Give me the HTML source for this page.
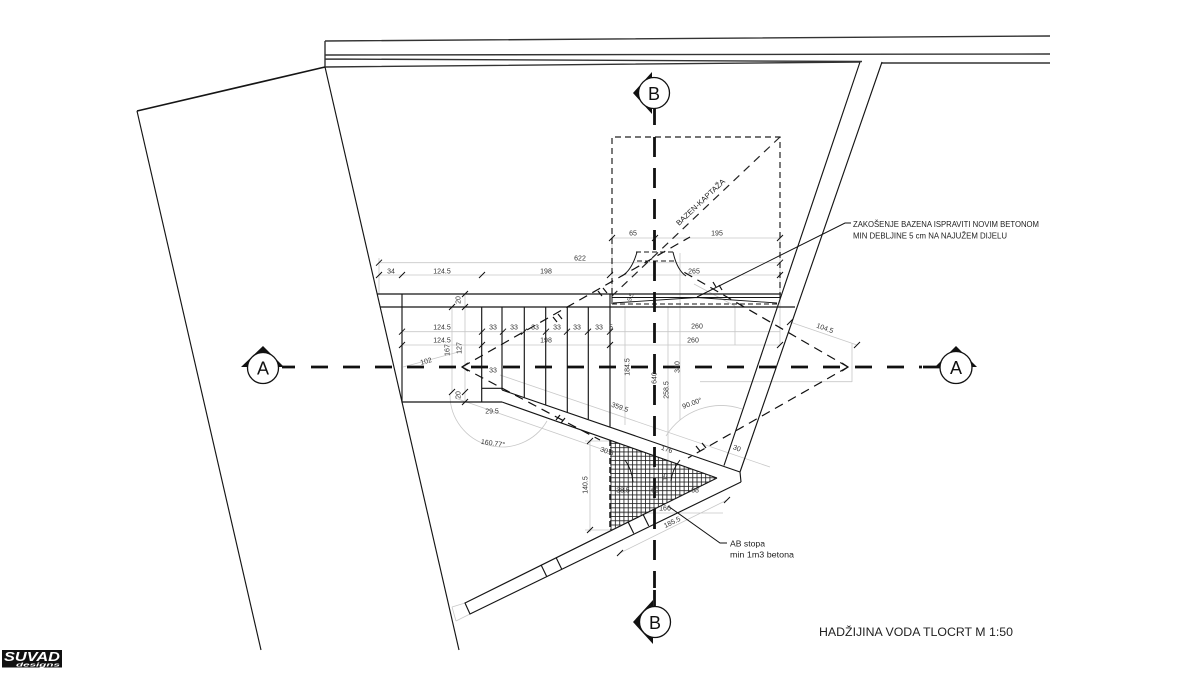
<!DOCTYPE html>
<html><head><meta charset="utf-8">
<style>
html,body{margin:0;padding:0;background:#fff;}
svg{display:block;}
text{font-family:"Liberation Sans",sans-serif;}
</style></head><body>
<svg width="1200" height="675" viewBox="0 0 1200 675" xmlns="http://www.w3.org/2000/svg">
<defs>
<pattern id="grid" width="4.3" height="4.3" patternUnits="userSpaceOnUse">
<path d="M0 0.4H4.3M0.4 0V4.3" stroke="#222" stroke-width="0.9" fill="none"/>
</pattern>
</defs>
<rect width="1200" height="675" fill="#fff"/>

<!-- light grey dimension / construction lines -->
<g stroke="#c8c8c8" stroke-width="0.8" fill="none">
<path d="M379 262.7H780M379 275H780M612 238H780M402 331.7H780M402 345H780"/>
<path d="M379 258V294M612 232V294M780 232V345M465 294V402M452 307V392"/>
<path d="M403 367L462 351"/>
<path d="M500 375L770 467"/>
<path d="M455 398L610 452"/>
<path d="M590 441V532M585 441H612M585 530H612"/>
<path d="M680 253V420M668 307V470M625 307V425"/>
<path d="M790 322L857 345M852 343V382M700 381.7H852"/>
<path d="M620 553L727 500M613 513H723"/>
<path d="M450 395A52 52 0 0 0 547 421"/>
<path d="M666 436A65 65 0 0 1 742 409"/>
<path d="M465 603L452 607M470 614L456 621M452 607L456 621"/>
<path d="M694 284L735 306M735 306V345"/>
</g>

<!-- hatched footing -->
<polygon points="610,440.2 717,478 610,530.2" fill="url(#grid)"/>
<path d="M610 440V530" stroke="#111" stroke-width="1.4" stroke-dasharray="6 3" fill="none"/>
<path d="M625 460Q632 470 633 482M680 460Q672 470 671 481" stroke="#111" stroke-width="1" fill="none"/>

<!-- top band -->
<g stroke="#333" stroke-width="1.4" fill="none">
<path d="M325 41L1050 36M325 55L1050 54M325 59L862 61.5M882 63L1050 63M325 67L860 62M325 41V67"/>
</g>

<!-- main outlines -->
<g stroke="#151515" stroke-width="1.15" fill="none">
<path d="M137 111L325 67" stroke-width="1.6"/>
<path d="M137 111L261 650"/>
<path d="M325 67L459 650"/>
<path d="M860 62L724 465.5M882 62L740 472L741 482"/>
<path d="M377 294H781M380 307H795"/>
<path d="M402 294V402H502"/>
<path d="M481.7 307V402M481.7 388.3H502M502 307V390"/>
<path d="M502 390L740 472M502 402L717 478"/>
<path d="M524.3 307V397.6M545.7 307V404.9M567.3 307V412.2M588.3 307V419.3M610 294V426.7"/>
<path d="M717 478L465 603L470 614L741 482"/>
<path d="M541 564.8L546.7 576.5M556 557.4L561.7 569.1M628 521.7L633.7 533.4M643 514.2L648.7 525.9"/>
<path d="M612 294V304M612 297.5H780M780 294V300" stroke-width="1"/>
<path d="M613 303L697 297.5L777 303" stroke-width="0.9"/>
<path d="M612 304H777" stroke-dasharray="5 3" stroke-width="1"/>
<path d="M637 252Q632 270 622 276M673 252Q677 270 686 276" stroke-width="1"/>
<path d="M636 252H674M637 261H676" stroke-dasharray="5 3" stroke-width="1.1"/>
</g>

<!-- pool (bazen) dashed -->
<g stroke="#222" stroke-width="1.2" fill="none" stroke-dasharray="6 4">
<path d="M612 294V137H780V294"/>
<path d="M780 137L612 296" stroke-dasharray="8 6"/>
</g>

<!-- A chevrons -->
<g stroke="#111" stroke-width="1.2" fill="none">
<path d="M462 367L690 237M462 367L600 440M848 367L682 271M848 367L688 458" stroke-dasharray="9 6"/>
<path d="M468 363L462 367L468 371M842 363L848 367L842 371"/>
<path d="M553 317L557 322M558 314L562 319M598 291L602 296M603 288L607 293M556 420L560 415M561 423L565 418M700 451L696 446M706 448L702 443M716 287L713 282M722 290L719 285"/>
</g>

<!-- ticks -->
<g stroke="#111" stroke-width="1" fill="none">
<path d="M376 265.7L382 259.7M777 265.7L783 259.7"/>
<path d="M376 278L382 272M399 278L405 272M479 278L485 272M607 278L613 272M777 278L783 272"/>
<path d="M609 241L615 235M652 241L658 235M777 241L783 235"/>
<path d="M399 334.7L405 328.7M479 334.7L485 328.7M500 334.7L506 328.7M521 334.7L527 328.7M543 334.7L549 328.7M564 334.7L570 328.7M585 334.7L591 328.7M607 334.7L613 328.7"/>
<path d="M399 348L405 342M479 348L485 342M607 348L613 342M777 348L783 342"/>
<path d="M462 297L468 291M462 310L468 304M462 395L468 389M462 405L468 399"/>
<path d="M449 310L455 304M449 395L455 389"/>
<path d="M587 444L593 438M587 533L593 527"/>
<path d="M787 325L793 319M854 348L860 342"/>
<path d="M617 556L623 550M724 503L730 497"/>
</g>

<!-- section line B -->
<g stroke="#111" stroke-width="2.8" fill="none">
<path d="M654.5 108V125M654.5 590V606"/>
<path d="M654.5 137V588" stroke-dasharray="20 11"/>
</g>
<!-- section line A -->
<g stroke="#111" stroke-width="2.8" fill="none">
<path d="M282 367H295M923 367H940"/>
<path d="M311 367H922" stroke-dasharray="17 15"/>
</g>

<!-- markers -->
<polygon points="652,72 633,93 652,114" fill="#111"/>
<circle cx="654" cy="93" r="15.5" fill="#fff" stroke="#111" stroke-width="1.3"/>
<text x="654" y="99.8" font-size="18" text-anchor="middle" fill="#111">B</text>

<polygon points="653,600 633,622 653,644" fill="#111"/>
<circle cx="655" cy="622" r="15.5" fill="#fff" stroke="#111" stroke-width="1.3"/>
<text x="655" y="628.8" font-size="18" text-anchor="middle" fill="#111">B</text>

<polygon points="241,367 263,346 284,367" fill="#111"/>
<circle cx="263" cy="368" r="15.5" fill="#fff" stroke="#111" stroke-width="1.3"/>
<text x="263" y="374.5" font-size="18" text-anchor="middle" fill="#111">A</text>

<polygon points="935,367 956,346 977,367" fill="#111"/>
<circle cx="956" cy="367.5" r="16" fill="#fff" stroke="#111" stroke-width="1.3"/>
<text x="956" y="374" font-size="18" text-anchor="middle" fill="#111">A</text>

<!-- leaders -->
<g stroke="#111" stroke-width="1" fill="none">
<path d="M851 223H845L697 297"/>
<path d="M727 543H720L668 506"/>
</g>

<!-- dimension text -->
<g font-size="7" fill="#333" text-anchor="middle">
<text x="580" y="260.5">622</text>
<text x="391" y="273.5">34</text>
<text x="442" y="273.5">124.5</text>
<text x="546" y="273.5">198</text>
<text x="633" y="235.5">65</text>
<text x="717" y="235.5">195</text>
<text x="694" y="273.5">265</text>
<text x="442" y="329.5">124.5</text>
<text x="493" y="329.5">33</text>
<text x="514" y="329.5">33</text>
<text x="535" y="329.5">33</text>
<text x="557" y="329.5">33</text>
<text x="577" y="329.5">33</text>
<text x="599" y="329.5">33</text>
<text x="611" y="329.5">5</text>
<text x="442" y="342.5">124.5</text>
<text x="546" y="342.5">198</text>
<text x="697" y="328.5">260</text>
<text x="693" y="342.5">260</text>
<text x="493" y="372.5">33</text>
<text x="492" y="413.5">29.5</text>
<text x="623" y="492.5">38.5</text>
<text x="655" y="492.5">60</text>
<text x="695" y="492.5">68</text>
<text x="665" y="510.5">166</text>
<text transform="translate(426,361) rotate(-15)" y="2.5">102</text>
<text transform="translate(458,300) rotate(-90)" y="2.5">20</text>
<text transform="translate(458,395) rotate(-90)" y="2.5">20</text>
<text transform="translate(447,350) rotate(-90)" y="2.5">167</text>
<text transform="translate(459,348) rotate(-90)" y="2.5">127</text>
<text transform="translate(627,367) rotate(-90)" y="2.5">184.5</text>
<text transform="translate(654,378) rotate(-90)" y="2.5">640</text>
<text transform="translate(677,367) rotate(-90)" y="2.5">340</text>
<text transform="translate(666,390) rotate(-90)" y="2.5">258.5</text>
<text transform="translate(585,485) rotate(-90)" y="2.5">140.5</text>
<text transform="translate(665,477) rotate(-90)" y="2.5">15</text>
<text transform="translate(630,297) rotate(-70)" y="2.5" font-size="6">5.5</text>
<text transform="translate(620,407) rotate(19)" y="2.5">359.5</text>
<text transform="translate(692,403) rotate(-20)" y="2.5">90.00°</text>
<text transform="translate(493,443) rotate(8)" y="2.5">160.77°</text>
<text transform="translate(667,449) rotate(19)" y="2.5">176</text>
<text transform="translate(737,448) rotate(20)" y="2.5">30</text>
<text transform="translate(607,451) rotate(20)" y="2.5">30.6</text>
<text transform="translate(672,522) rotate(-26)" y="2.5">185.5</text>
<text transform="translate(825,328) rotate(20)" y="2.5">104.5</text>
</g>

<text transform="translate(679,226) rotate(-43.4)" font-size="7.5" fill="#222" textLength="64" lengthAdjust="spacingAndGlyphs">BAZEN-KAPTAŽA</text>

<!-- notes -->
<g fill="#222" font-size="8.6">
<text x="853" y="227" textLength="186" lengthAdjust="spacingAndGlyphs">ZAKOŠENJE BAZENA ISPRAVITI NOVIM BETONOM</text>
<text x="853" y="238.5" textLength="154" lengthAdjust="spacingAndGlyphs">MIN DEBLJINE 5 cm NA NAJUŽEM DIJELU</text>
<text x="730" y="546.5" textLength="35" lengthAdjust="spacingAndGlyphs">AB stopa</text>
<text x="730" y="557.5" textLength="64" lengthAdjust="spacingAndGlyphs">min 1m3 betona</text>
</g>

<text x="819" y="636" font-size="12.3" fill="#222" textLength="194" lengthAdjust="spacingAndGlyphs">HADŽIJINA VODA  TLOCRT M 1:50</text>

<!-- logo -->
<rect x="2" y="650" width="60" height="17.5" fill="#111"/>
<text x="4" y="661" font-size="12.5" font-weight="bold" font-style="italic" fill="#fff" textLength="56" lengthAdjust="spacingAndGlyphs">SUVAD</text>
<text x="16" y="666.5" font-size="5.5" font-weight="bold" font-style="italic" fill="#fff" textLength="44" lengthAdjust="spacingAndGlyphs">designs</text>
</svg>
</body></html>
